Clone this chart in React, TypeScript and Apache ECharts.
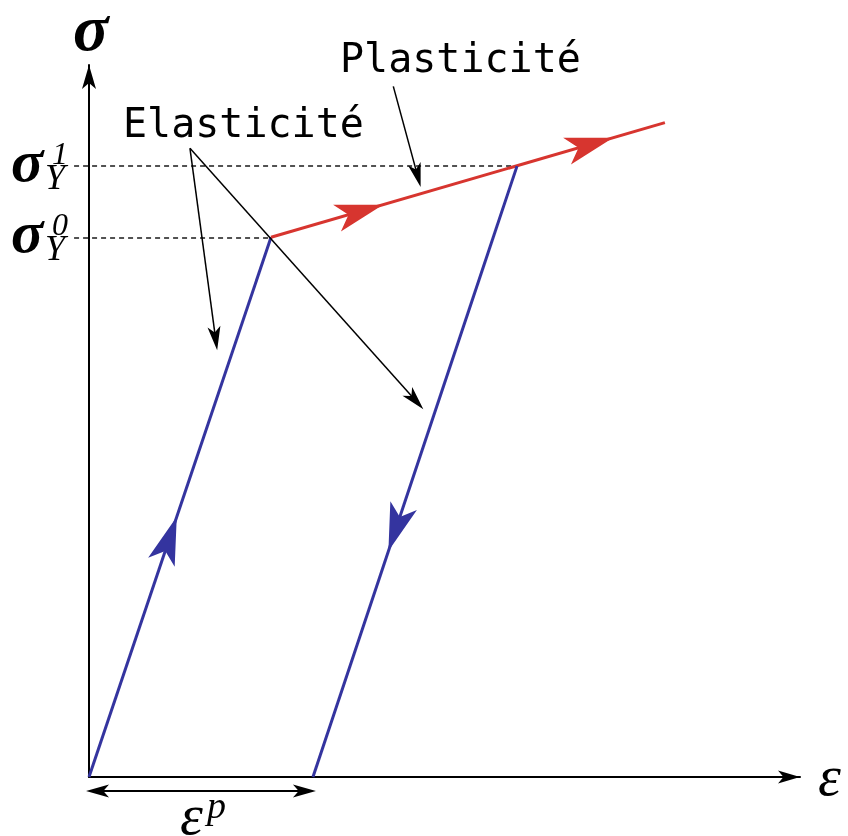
import { useEffect, useRef } from "react";
import * as echarts from "echarts";

// Stress–strain path (strain, stress) in arbitrary units
const origin = [0, 0];
const yieldPoint = [2.56, 7.58]; // first yield, σY0
const unloadPoint = [6.02, 8.58]; // unloading starts, σY1
const hardeningEnd = [8.1, 9.19];
const residualStrain = [3.15, 0]; // permanent strain εp

// Where the direction arrowheads sit, as a fraction of each branch
const loadArrowAt = [0.44];
const hardenArrowsAt = [0.226, 0.81];
const unloadArrowAt = [0.593];

// Annotation pointers: [tail, head] in the same units
const plasticPointers = [[[4.28, 9.7], [4.62, 8.45]]];
const elasticPointers = [
  [[1.42, 8.83], [1.78, 6.16]],
  [[1.42, 8.83], [4.59, 5.29]],
];
const plasticStrainSpan = [[0.12, -0.197], [3.03, -0.197]];
const guideStart = -0.21;

// Yield-stress labels: superscript index for each level
const yieldLabels = [
  { index: "1", point: unloadPoint, top: 166 },
  { index: "0", point: yieldPoint, top: 237 },
];

const BLUE = "#34349f";
const RED = "#d7352f";
// Notched arrowhead, pointing up
const ARROW = "path://M0,0 L7,24 L0,18 L-7,24 Z";

const lerp = (a: number[], b: number[], t: number) => [
  a[0] + (b[0] - a[0]) * t,
  a[1] + (b[1] - a[1]) * t,
];
const arrowSeg = (a: number[], b: number[], t: number) => ({
  coords: [lerp(a, b, t - 0.02), lerp(a, b, t)],
});

export default function App() {
  const ref = useRef<HTMLDivElement>(null);
  useEffect(() => {
    if (!ref.current) return;
    const chart = echarts.init(ref.current, null, { renderer: "svg" });
    const serif = "'Liberation Serif', 'DejaVu Serif', serif";
    const mono = "'DejaVu Sans Mono', monospace";
    const mathText = (
      text: string,
      x: number,
      y: number,
      size: number,
      lineHeight: number,
      weight = "normal"
    ) => ({
      type: "text",
      x,
      y,
      style: {
        text,
        fontStyle: "italic",
        fontWeight: weight,
        fontSize: size,
        fontFamily: serif,
        lineHeight,
        fill: "#000",
        align: "left",
        verticalAlign: "middle",
      },
    });
    const monoText = (text: string, x: number, y: number) => ({
      type: "text",
      x,
      y,
      style: {
        text,
        fontSize: 40,
        fontFamily: mono,
        lineHeight: 40,
        fill: "#000",
        align: "left",
        verticalAlign: "middle",
      },
    });
    // σ with stacked superscript index and subscript Y
    const yieldLabel = (index: string, y: number) => [
      mathText("σ", 11, y - 5, 60, 30, "bold"),
      mathText(index, 52, y - 13, 32, 22),
      mathText("Y", 45, y + 11, 36, 24),
    ];
    const hiddenAxis = {
      axisTick: { show: false },
      axisLabel: { show: false },
      splitLine: { show: false },
    };
    chart.setOption({
      animation: false,
      grid: { left: 89, right: 48, top: 65, bottom: 59 },
      xAxis: {
        type: "value",
        min: 0,
        max: 10,
        axisLine: {
          show: true,
          symbol: ["none", ARROW],
          symbolSize: [13, 22],
          symbolOffset: [0, -11],
          lineStyle: { color: "#000", width: 2 },
        },
        ...hiddenAxis,
      },
      yAxis: {
        type: "value",
        min: 0,
        max: 10,
        axisLine: {
          show: true,
          symbol: ["none", ARROW],
          symbolSize: [14, 24],
          symbolOffset: [0, -12],
          lineStyle: { color: "#000", width: 2 },
        },
        ...hiddenAxis,
      },
      series: [
        {
          type: "lines",
          coordinateSystem: "cartesian2d",
          clip: false,
          z: 1,
          lineStyle: { color: "#1a1a1a", width: 1.6, type: [5, 4], opacity: 1 },
          data: yieldLabels.map((l) => ({
            coords: [[guideStart, l.point[1]], l.point],
          })),
        },
        {
          type: "line",
          z: 3,
          symbol: "none",
          lineStyle: { color: BLUE, width: 3 },
          data: [origin, yieldPoint],
        },
        {
          type: "line",
          z: 3,
          symbol: "none",
          lineStyle: { color: RED, width: 3 },
          data: [yieldPoint, hardeningEnd],
        },
        {
          type: "line",
          z: 3,
          symbol: "none",
          lineStyle: { color: BLUE, width: 3 },
          data: [unloadPoint, residualStrain],
        },
        {
          type: "lines",
          coordinateSystem: "cartesian2d",
          z: 4,
          symbol: ["none", ARROW],
          symbolSize: [[28, 48], [28, 48]],
          lineStyle: { color: BLUE, width: 3, opacity: 1 },
          itemStyle: { color: BLUE },
          data: [
            ...loadArrowAt.map((t) => arrowSeg(origin, yieldPoint, t)),
            ...unloadArrowAt.map((t) => arrowSeg(unloadPoint, residualStrain, t)),
          ],
        },
        {
          type: "lines",
          coordinateSystem: "cartesian2d",
          z: 4,
          symbol: ["none", ARROW],
          symbolSize: [[28, 48], [28, 48]],
          lineStyle: { color: RED, width: 3, opacity: 1 },
          itemStyle: { color: RED },
          data: hardenArrowsAt.map((t) => arrowSeg(yieldPoint, hardeningEnd, t)),
        },
        {
          type: "lines",
          coordinateSystem: "cartesian2d",
          clip: false,
          z: 5,
          symbol: ["none", ARROW],
          symbolSize: [[13, 24], [13, 24]],
          lineStyle: { color: "#000", width: 1.5, opacity: 1 },
          data: [...plasticPointers, ...elasticPointers].map((c) => ({ coords: c })),
        },
        {
          type: "lines",
          coordinateSystem: "cartesian2d",
          clip: false,
          z: 5,
          symbol: [ARROW, ARROW],
          symbolSize: [[13, 23], [13, 23]],
          lineStyle: { color: "#000", width: 2, opacity: 1 },
          data: [{ coords: plasticStrainSpan }],
        },
      ],
      graphic: [
        mathText("σ", 73, 27, 66, 40, "bold"),
        mathText("ε", 818, 775, 58, 36),
        ...yieldLabels.flatMap((l) => yieldLabel(l.index, l.top)),
        mathText("ε", 180, 814, 58, 32),
        mathText("p", 207, 805, 38, 26),
        monoText("Plasticité", 340, 58),
        monoText("Elasticité", 123, 123),
      ],
    });
    return () => chart.dispose();
  }, []);
  return (
    <div
      ref={ref}
      style={{ position: "fixed", left: 0, top: 0, width: 848, height: 836 }}
    />
  );
}
